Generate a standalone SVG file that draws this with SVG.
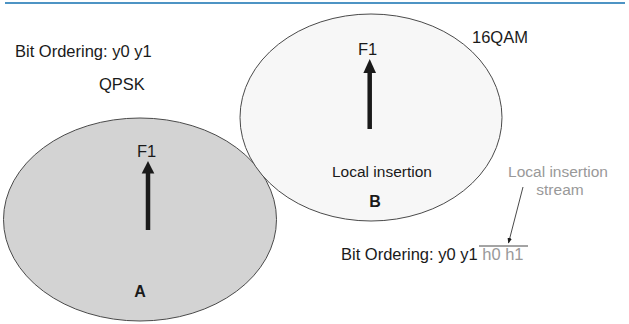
<svg xmlns="http://www.w3.org/2000/svg" width="629" height="324" viewBox="0 0 629 324">
  <defs>
    <style>
      text { font-family: "Liberation Sans", Arial, sans-serif; font-size: 16.5px; fill: #1a1a1a; }
      .grey { fill: #999999; }
      .small { font-size: 15.5px; }
      .bold { font-weight: bold; font-size: 16px; }
      .shaft { stroke: #1a1a1a; stroke-width: 4.5; fill: none; }
      .head { fill: #1a1a1a; }
      .zone { stroke: #4a4a4a; stroke-width: 1; }
    </style>
    <marker id="thin-head" viewBox="0 0 10 10" refX="9" refY="5" markerWidth="7" markerHeight="7" orient="auto">
      <path d="M0,1 L10,5 L0,9 z" fill="#1a1a1a"/>
    </marker>
  </defs>

  <rect width="629" height="324" fill="#ffffff"/>
  <!-- header rule -->
  <line x1="5" y1="3" x2="625" y2="3" stroke="#4d94c4" stroke-width="2.2"/>

  <!-- coverage area A (QPSK) -->
  <g id="area-a">
    <ellipse class="zone" cx="140" cy="219.5" rx="136.5" ry="101.5" fill="#d3d3d3"/>
    <text x="137" y="157">F1</text>
    <line class="shaft" x1="148" y1="230" x2="148" y2="170"/>
    <polygon class="head" points="148,161 154.3,173.5 141.7,173.5"/>
    <text class="bold" x="140" y="297" text-anchor="middle">A</text>
  </g>

  <!-- coverage area B (16QAM) -->
  <g id="area-b">
    <ellipse class="zone" cx="371" cy="117.5" rx="131" ry="103.5" fill="#f7f7f7"/>
    <text x="358" y="55">F1</text>
    <line class="shaft" x1="369.7" y1="129" x2="369.7" y2="68"/>
    <polygon class="head" points="369.7,59 376,73 363.4,73"/>
    <text class="small" x="332" y="177">Local insertion</text>
    <text class="bold" x="375" y="207" text-anchor="middle">B</text>
  </g>

  <!-- labels -->
  <g id="labels">
    <text x="15" y="57">Bit Ordering: y0 y1</text>
    <text x="99" y="90">QPSK</text>
    <text x="472" y="43">16QAM</text>
    <text class="grey small" x="558" y="177" text-anchor="middle">Local insertion</text>
    <text class="grey small" x="560" y="195" text-anchor="middle">stream</text>
    <text x="341" y="260">Bit Ordering: y0 y1 <tspan class="grey">h0 h1</tspan></text>
  </g>

  <!-- connectors -->
  <g id="connectors">
    <line x1="523" y1="187" x2="508.5" y2="243" stroke="#1a1a1a" stroke-width="0.8" marker-end="url(#thin-head)"/>
    <line x1="479" y1="246" x2="528" y2="246" stroke="#1a1a1a" stroke-width="0.8"/>
  </g>
</svg>
